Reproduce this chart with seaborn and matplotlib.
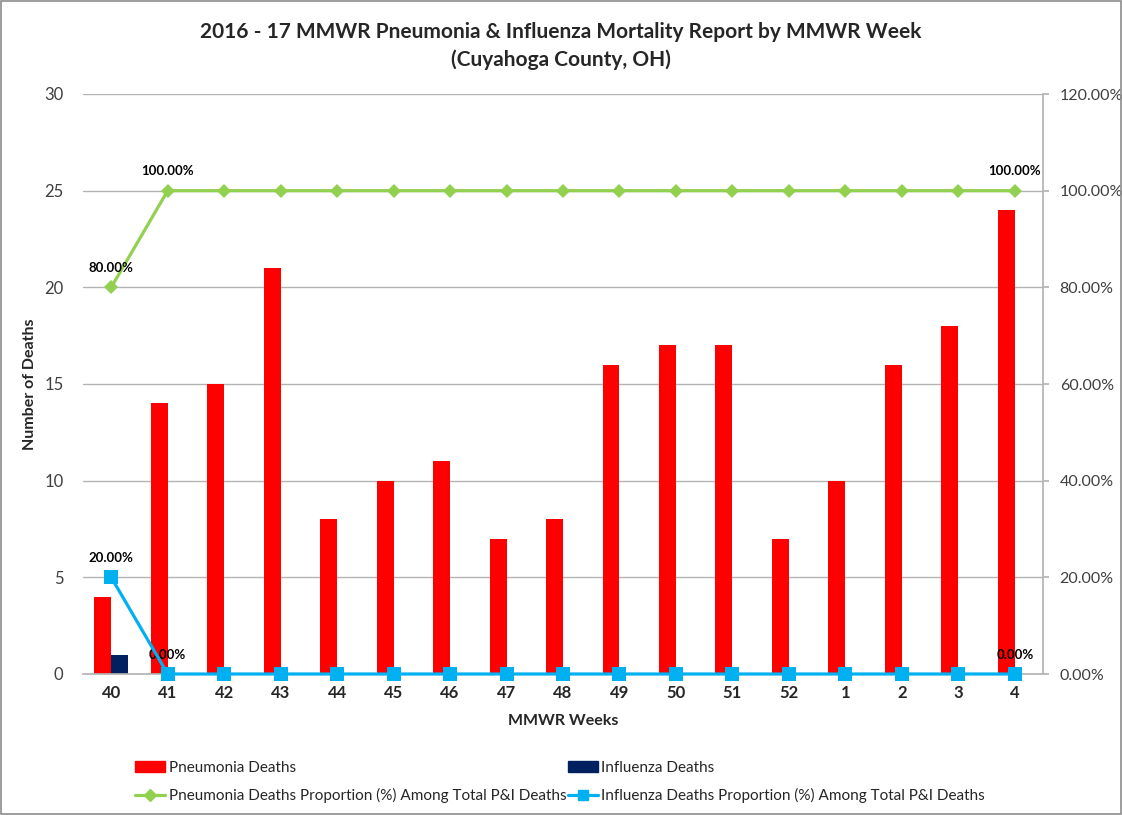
import numpy as np
import pandas as pd
import matplotlib
matplotlib.use("Agg")
import matplotlib.pyplot as plt
from matplotlib.patches import Rectangle, Patch
from matplotlib.lines import Line2D
from matplotlib.ticker import FuncFormatter, MultipleLocator
import seaborn as sns

weeks = ["40", "41", "42", "43", "44", "45", "46", "47", "48",
         "49", "50", "51", "52", "1", "2", "3", "4"]
pneumonia_deaths = [4, 14, 15, 21, 8, 10, 11, 7, 8, 16, 17, 17, 7, 10, 16, 18, 24]
influenza_deaths = [1, 0, 0, 0, 0, 0, 0, 0, 0, 0, 0, 0, 0, 0, 0, 0, 0]
pneumonia_pct = [80, 100, 100, 100, 100, 100, 100, 100, 100,
                 100, 100, 100, 100, 100, 100, 100, 100]
influenza_pct = [20, 0, 0, 0, 0, 0, 0, 0, 0, 0, 0, 0, 0, 0, 0, 0, 0]
labelled = [0, 1, 16]  # points that carry a data label

RED = "#FF0000"
NAVY = "#002060"
GREEN = "#92D050"
CYAN = "#00B0F0"
GRID = "#B3B3B3"
TXT = "#404040"

df = pd.DataFrame({
    "week": weeks * 2,
    "deaths": pneumonia_deaths + influenza_deaths,
    "series": ["Pneumonia Deaths"] * len(weeks) + ["Influenza Deaths"] * len(weeks),
})

sns.set_theme(style="white")
plt.rcParams["font.family"] = ["Lato", "DejaVu Sans"]

fig = plt.figure(figsize=(11.22, 8.15), dpi=100)
ax = fig.add_axes([83 / 1122, 1 - 674 / 815, 960 / 1122, 580 / 815])

sns.barplot(data=df, x="week", y="deaths", hue="series", order=weeks,
            palette=[RED, NAVY], saturation=1, width=0.6, linewidth=0,
            ax=ax, legend=False)
ax.set_xlim(-0.5, len(weeks) - 0.5)
ax.set_ylim(0, 30)
ax.yaxis.set_major_locator(MultipleLocator(5))
ax.yaxis.grid(True, color=GRID, lw=1)
ax.set_axisbelow(True)
for s in ["left", "top", "right"]:
    ax.spines[s].set_visible(False)
ax.spines["bottom"].set_color(GRID)
ax.tick_params(axis="y", length=0, labelsize=12, labelcolor=TXT, pad=14)
ax.tick_params(axis="x", length=0, labelsize=12, pad=8)
for t in ax.get_xticklabels():
    t.set_fontweight("bold")
ax.set_xlabel("MMWR Weeks", fontsize=11.5, fontweight="bold", labelpad=9)
ax.set_ylabel("Number of Deaths", fontsize=11.5, fontweight="bold")
ax.yaxis.set_label_coords(-0.048, 0.5)

ax2 = ax.twinx()
x = np.arange(len(weeks))
sns.lineplot(x=x, y=pneumonia_pct, ax=ax2, color=GREEN, lw=2.3, marker="D",
             markersize=7.5, markeredgewidth=0, zorder=3, clip_on=False)
sns.lineplot(x=x, y=influenza_pct, ax=ax2, color=CYAN, lw=2.3, marker="s",
             markersize=10, markeredgewidth=0, zorder=4, clip_on=False)
ax2.set_ylim(0, 120)
ax2.set_xlim(-0.5, len(weeks) - 0.5)
ax2.yaxis.set_major_locator(MultipleLocator(20))
ax2.yaxis.set_major_formatter(FuncFormatter(lambda v, _: f"{v:.2f}%"))
for s in ["left", "top", "bottom"]:
    ax2.spines[s].set_visible(False)
ax2.spines["right"].set_color(GRID)
ax2.tick_params(axis="y", length=4, color=GRID, labelsize=11.5, labelcolor=TXT, pad=8)
ax2.grid(False)

for i in labelled:
    for vals in (pneumonia_pct, influenza_pct):
        ax2.annotate(f"{vals[i]:.2f}%", (x[i], vals[i]), xytext=(0, 14),
                     textcoords="offset points", ha="center", va="center",
                     fontsize=9.5, fontweight="bold", color="black")

handles = [
    Patch(color=RED),
    Line2D([], [], color=GREEN, lw=2.3, marker="D", markersize=6),
    Patch(color=NAVY),
    Line2D([], [], color=CYAN, lw=2.3, marker="s", markersize=7),
]
labels = [
    "Pneumonia Deaths",
    "Pneumonia Deaths Proportion (%) Among Total P&I Deaths",
    "Influenza Deaths",
    "Influenza Deaths Proportion (%) Among Total P&I Deaths",
]
fig.legend(handles, labels, ncol=2, loc="center",
           bbox_to_anchor=(560 / 1122, 1 - 782 / 815), frameon=False,
           fontsize=11, handlelength=2.0, handleheight=0.8,
           handletextpad=0.2, columnspacing=0.1, labelspacing=0.9)

fig.text(0.5, 1 - 46 / 815,
         "2016 - 17 MMWR Pneumonia & Influenza Mortality Report by MMWR Week\n(Cuyahoga County, OH)",
         ha="center", va="center", fontsize=15, fontweight="bold", linespacing=1.5)

fig.patches.append(Rectangle((0.001, 0.001), 0.998, 0.998, transform=fig.transFigure,
                             fill=False, edgecolor="#8C8C8C", lw=1.2))

fig.savefig("out.png", dpi=100)
